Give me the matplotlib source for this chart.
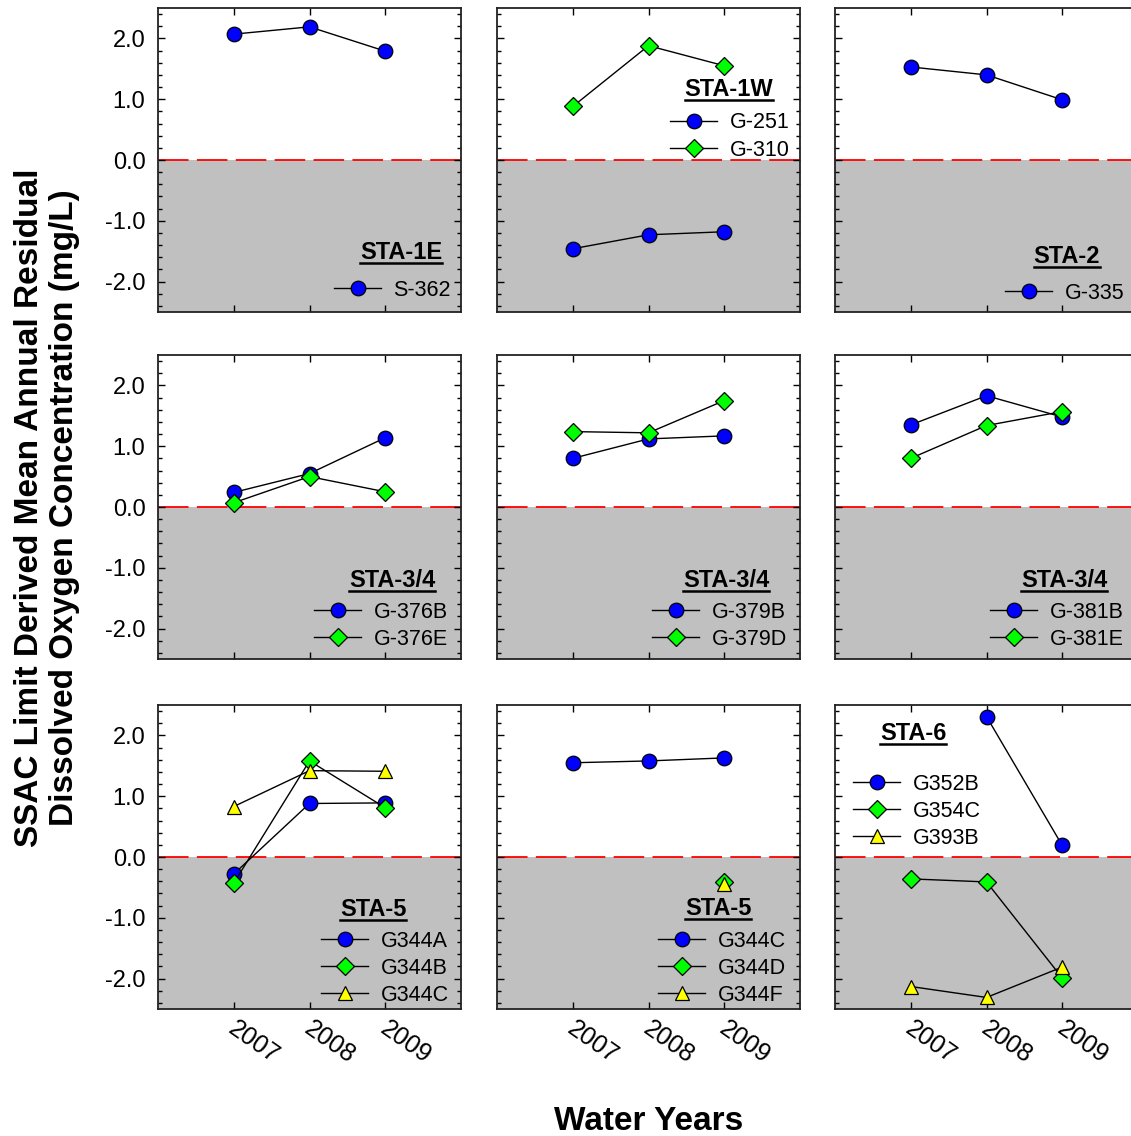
import numpy as np
import matplotlib
matplotlib.use('Agg')
import matplotlib.pyplot as plt
import matplotlib.transforms as mtransforms
from matplotlib import font_manager
from matplotlib.lines import Line2D
from matplotlib.ticker import MultipleLocator, FormatStrFormatter

nan = np.nan

years = [2007, 2008, 2009]
year_labels = ['2007', '2008', '2009']

# STA-1E
s362 = [2.07, 2.19, 1.79]
# STA-1W
g251 = [-1.46, -1.23, -1.18]
g310 = [0.88, 1.88, 1.55]
# STA-2
g335 = [1.53, 1.40, 0.99]
# STA-3/4
g376b = [0.24, 0.55, 1.14]
g376e = [0.07, 0.50, 0.25]
g379b = [0.80, 1.12, 1.17]
g379d = [1.24, 1.22, 1.75]
g381b = [1.35, 1.83, 1.48]
g381e = [0.80, 1.34, 1.57]
# STA-5
g344a = [-0.28, 0.88, 0.89]
g344b = [-0.43, 1.58, 0.81]
g344c_west = [0.83, 1.42, 1.41]
g344c = [1.55, 1.58, 1.63]
g344d = [nan, nan, -0.41]
g344f = [nan, nan, -0.44]
# STA-6
g352b = [nan, 2.31, 0.19]
g354c = [-0.36, -0.41, -1.99]
g393b = [-2.13, -2.31, -1.81]

W, H = 1131, 1136
col_left = [158, 497, 835]
row_top = [8, 355, 705]
ax_w, ax_h = 303, 304

plt.rcParams['font.family'] = ['Liberation Sans', 'DejaVu Sans']
plt.rcParams['axes.unicode_minus'] = False
plt.rcParams['lines.scale_dashes'] = False

names = {f.name for f in font_manager.fontManager.ttflist}
if 'Liberation Sans Narrow' in names:
    ylab_family, ylab_size = 'Liberation Sans Narrow', 29
else:
    ylab_family, ylab_size = 'Liberation Sans', 24

MARKERS = {
    'o': dict(marker='o', markersize=10.5, markerfacecolor='#0000ff'),
    'D': dict(marker='D', markersize=9, markerfacecolor='#00ff00'),
    '^': dict(marker='^', markersize=10, markerfacecolor='#ffff00'),
}

# title (text, center x px, baseline px), legend (handle left px, row centers px)
panels = [
    ('STA-1E', (401, 259), (334, [288]), [('S-362', s362, 'o')]),
    ('STA-1W', (729, 96), (670, [121, 147]), [('G-251', g251, 'o'), ('G-310', g310, 'D')]),
    ('STA-2', (1067, 263), (1005, [291]), [('G-335', g335, 'o')]),
    ('STA-3/4', (392, 587), (314, [610, 636.5]), [('G-376B', g376b, 'o'), ('G-376E', g376e, 'D')]),
    ('STA-3/4', (726, 587), (652, [610, 636.5]), [('G-379B', g379b, 'o'), ('G-379D', g379d, 'D')]),
    ('STA-3/4', (1064, 587), (990, [610.5, 636.5]), [('G-381B', g381b, 'o'), ('G-381E', g381e, 'D')]),
    ('STA-5', (373, 916), (321, [939.5, 966, 992.5]),
     [('G344A', g344a, 'o'), ('G344B', g344b, 'D'), ('G344C', g344c_west, '^')]),
    ('STA-5', (718, 915), (658, [939.5, 966.5, 992]),
     [('G344C', g344c, 'o'), ('G344D', g344d, 'D'), ('G344F', g344f, '^')]),
    ('STA-6', (913, 740), (853, [783, 809, 834]),
     [('G352B', g352b, 'o'), ('G354C', g354c, 'D'), ('G393B', g393b, '^')]),
]


def px_to_axes(x, y, left, top):
    return (x - left) / ax_w, (top + ax_h - y) / ax_h


fig = plt.figure(figsize=(W / 100, H / 100), dpi=100)
titles = []

for i, (title, tpos, lpos, series) in enumerate(panels):
    r, c = divmod(i, 3)
    left, top = col_left[c], row_top[r]
    ax = fig.add_axes([left / W, 1 - (top + ax_h) / H, ax_w / W, ax_h / H])
    ax.set_xlim(2006, 2010)
    ax.set_ylim(-2.5, 2.5)
    ax.axhspan(-2.5, 0, color='#c0c0c0', zorder=0, lw=0)
    ax.axhline(0, color='#ff0000', lw=1.3, dashes=(22, 6), zorder=1)

    for label, vals, mk in series:
        ax.plot(years, vals, color='black', lw=1.0, markeredgecolor='black',
                markeredgewidth=0.9, label=label, zorder=3, **MARKERS[mk])

    ax.set_xticks(years)
    ax.yaxis.set_major_locator(MultipleLocator(1.0))
    ax.yaxis.set_minor_locator(MultipleLocator(0.2))
    ax.yaxis.set_major_formatter(FormatStrFormatter('%.1f'))
    ax.tick_params(axis='both', which='both', direction='in', top=True, right=True, width=1.0)
    ax.tick_params(axis='both', which='major', length=5)
    ax.tick_params(axis='both', which='minor', length=3)
    ax.tick_params(axis='y', labelsize=17, pad=9, labelleft=(c == 0))
    for sp in ax.spines.values():
        sp.set_linewidth(1.3)
        sp.set_color('#222222')

    if r == 2:
        ax.set_xticklabels(year_labels, rotation=-35, ha='left', va='top',
                           rotation_mode='anchor', fontsize=18)
        ax.tick_params(axis='x', pad=5)
        shift = mtransforms.ScaledTranslation(4 / 100, 0, fig.dpi_scale_trans)
        for lab in ax.get_xticklabels():
            lab.set_transform(lab.get_transform() + shift)
    else:
        ax.tick_params(axis='x', labelbottom=False)

    tx, ty = px_to_axes(tpos[0], tpos[1], left, top)
    t = ax.text(tx, ty, title, transform=ax.transAxes, ha='center', va='baseline',
                fontsize=17, fontweight='bold', zorder=5)
    titles.append((t, tpos[1]))

    # legend rows sit ~2.5 px higher than the anchor, so nudge down
    hx, rows = lpos
    lx, ly = px_to_axes(hx, np.mean(rows) + 2.5, left, top)
    ax.legend(loc='center left', bbox_to_anchor=(lx, ly), frameon=False, fontsize=15.5,
              borderpad=0, borderaxespad=0, handlelength=2.2, handletextpad=0.56,
              labelspacing=0.28, numpoints=1)

fig.text(47 / W, 1 - 508 / H,
         'SSAC Limit Derived Mean Annual Residual\nDissolved Oxygen Concentration (mg/L)',
         rotation=90, ha='center', va='center', multialignment='center',
         fontsize=ylab_size, fontweight='bold', family=ylab_family, linespacing=1.15)
fig.text(649 / W, 1 - 1121 / H, 'Water Years', ha='center', va='center',
         fontsize=24, fontweight='bold')

# underline the station titles
fig.canvas.draw()
for t, base in titles:
    bb = t.get_window_extent()
    yy = 1 - (base + 4) / H
    fig.add_artist(Line2D([bb.x0 / W, bb.x1 / W], [yy, yy], transform=fig.transFigure,
                          color='black', lw=1.8))

fig.savefig('out.png', dpi=100, facecolor='white')
